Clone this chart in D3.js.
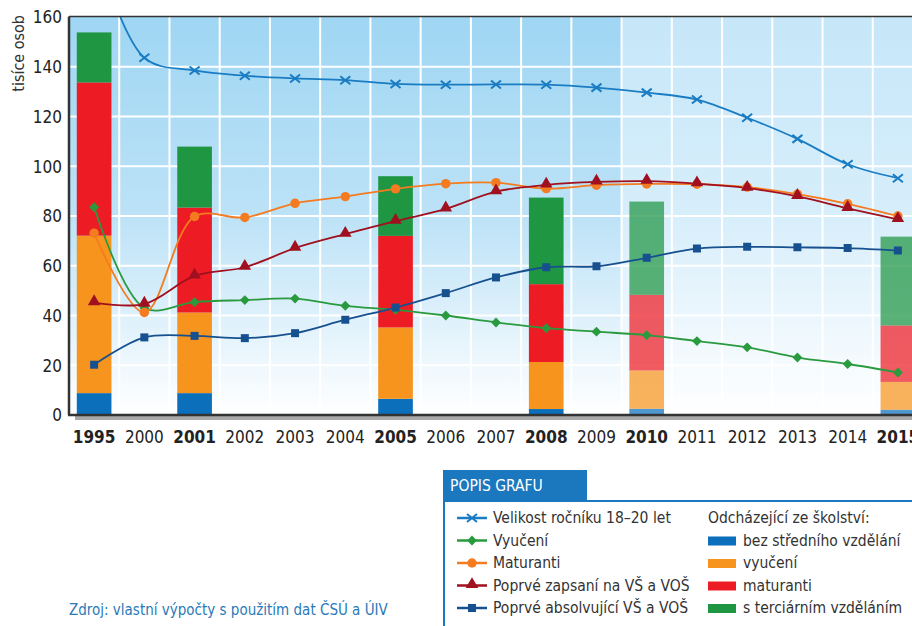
<!DOCTYPE html>
<html>
<head>
<meta charset="utf-8">
<style>
  body { margin: 0; background: #fff; }
  svg text { font-family: 'Liberation Sans Narrow', 'DejaVu Sans Condensed', 'Liberation Sans', sans-serif; }
  .tick text { fill: #222; font-size: 17px; }
  .leg text { fill: #333; font-size: 15.5px; }
</style>
</head>
<body>
<div id="chart"></div>
<script src="https://cdn.jsdelivr.net/npm/d3@7"></script>
<script>
// years on the x axis
var years = ["1995","2000","2001","2002","2003","2004","2005","2006","2007","2008","2009","2010","2011","2012","2013","2014","2015"];
var yTicks = [0, 20, 40, 60, 80, 100, 120, 140, 160];

// lines (thousands of people)
var velikost   = [190, 143.6, 138.5, 136.4, 135.3, 134.6, 133.1, 132.8, 132.9, 132.8, 131.6, 129.6, 126.8, 119.5, 111.0, 100.8, 95.2];
var vyuceni    = [83.5, 43.0, 45.4, 46.2, 46.8, 43.9, 42.3, 40.0, 37.2, 34.9, 33.5, 32.1, 29.7, 27.2, 23.1, 20.5, 17.1];
var maturanti  = [73.1, 41.2, 79.8, 79.4, 85.1, 87.8, 90.9, 93.0, 93.4, 91.0, 92.4, 92.9, 92.8, 91.6, 88.8, 84.9, 80.0];
var zapsani    = [45.2, 44.6, 55.9, 59.4, 67.1, 72.7, 77.9, 82.9, 89.8, 92.5, 93.7, 94.0, 93.0, 91.2, 87.9, 83.1, 78.6];
var absolventi = [20.2, 31.2, 31.8, 30.9, 32.9, 38.3, 43.2, 49.0, 55.3, 59.4, 59.8, 63.2, 66.9, 67.6, 67.4, 67.1, 66.1];

// stacked bars: leaving education
var barYears   = ["1995", "2001", "2005", "2008", "2010", "2015"];
var barFuture  = [false, false, false, false, true, true];
var bezStredni = [8.8, 8.8, 6.5, 2.4, 2.5, 2.1];
var vyuceniB   = [63.3, 32.4, 28.7, 18.9, 15.4, 11.2];
var maturantiB = [61.6, 42.2, 36.8, 31.3, 30.4, 22.7];
var terciarni  = [20.1, 24.5, 24.0, 34.8, 37.5, 35.7];

var lineNames = ["Velikost ročníku 18–20 let", "Vyučení", "Maturanti", "Poprvé zapsaní na VŠ a VOŠ", "Poprvé absolvující VŠ a VOŠ"];
var barNames = ["bez středního vzdělání", "vyučení", "maturanti", "s terciárním vzděláním"];

var width = 912, height = 626;
var svg = d3.select("#chart").append("svg")
  .attr("width", width)
  .attr("height", height);

var pLeft = 69, pTop = 16.5, pBottom = 415, pRight = 923;

var x = d3.scaleBand().domain(years).range([pLeft, pRight]).padding(0);
var y = d3.scaleLinear().domain([0, 160]).range([pBottom, 17]);

var defs = svg.append("defs");
function grad(id, c) {
  var g = defs.append("linearGradient").attr("id", id)
    .attr("x1", 0).attr("y1", 0).attr("x2", 0).attr("y2", 1);
  g.append("stop").attr("offset", "0").attr("stop-color", c);
  g.append("stop").attr("offset", "0.5").attr("stop-color", d3.interpolateRgb(c, "#fff")(0.3));
  g.append("stop").attr("offset", "1").attr("stop-color", "#fff");
}
grad("bgPast", "#9fd6f3");
grad("bgFuture", "#c6e7f9");
defs.append("clipPath").attr("id", "plotClip").append("rect")
  .attr("x", pLeft).attr("y", pTop).attr("width", pRight - pLeft).attr("height", pBottom - pTop);

// background
svg.append("rect").attr("x", pLeft).attr("y", pTop)
  .attr("width", x("2010") - pLeft).attr("height", pBottom - pTop)
  .attr("fill", "url(#bgPast)");
svg.append("rect").attr("x", x("2010")).attr("y", pTop)
  .attr("width", pRight - x("2010")).attr("height", pBottom - pTop)
  .attr("fill", "url(#bgFuture)");

// grid
var grid = svg.append("g");
grid.selectAll(".vg").data(years.slice(1)).enter().append("line")
  .attr("x1", function(d) { return x(d); }).attr("x2", function(d) { return x(d); })
  .attr("y1", pTop).attr("y2", pBottom)
  .attr("stroke", "#fff").attr("stroke-width", 2);
grid.selectAll(".hg").data(yTicks.slice(1, -1)).enter().append("line")
  .attr("x1", pLeft).attr("x2", pRight)
  .attr("y1", function(d) { return y(d); }).attr("y2", function(d) { return y(d); })
  .attr("stroke", "#fff").attr("stroke-width", 2);

// bars
var barColors = ["#0b6fbc", "#f7941d", "#ed1c24", "#1f9642"];
var barRows = barYears.map(function(yr, i) {
  return { year: yr, future: barFuture[i], vals: [bezStredni[i], vyuceniB[i], maturantiB[i], terciarni[i]] };
});
var bw = x.bandwidth() * 0.69;
barRows.forEach(function(r) {
  var acc = 0;
  r.vals.forEach(function(v, k) {
    svg.append("rect")
      .attr("x", x(r.year) + (x.bandwidth() - bw) / 2)
      .attr("y", y(acc + v))
      .attr("width", bw)
      .attr("height", y(acc) - y(acc + v))
      .attr("fill", barColors[k])
      .attr("opacity", r.future ? 0.72 : 1);
    acc += v;
  });
});

// lines
var cx = function(d, i) { return x(years[i]) + x.bandwidth() / 2; };
var lineGen = d3.line().x(cx).y(function(d) { return y(d); }).curve(d3.curveCatmullRom.alpha(0.5));
var series = [
  { vals: velikost, color: "#1a7cc2", mark: "x" },
  { vals: vyuceni, color: "#2a9a3e", mark: "diamond" },
  { vals: maturanti, color: "#f47b20", mark: "circle" },
  { vals: zapsani, color: "#a0101e", mark: "triangle" },
  { vals: absolventi, color: "#17508f", mark: "square" }
];
var plot = svg.append("g").attr("clip-path", "url(#plotClip)");

function marker(g, kind, color, px, py) {
  if (kind === "x") {
    g.append("path").attr("d", "M" + (px - 5) + "," + (py - 4) + "L" + (px + 5) + "," + (py + 4) + "M" + (px - 5) + "," + (py + 4) + "L" + (px + 5) + "," + (py - 4))
      .attr("stroke", color).attr("stroke-width", 2).attr("fill", "none");
  } else {
    var sym = { diamond: d3.symbolDiamond2, circle: d3.symbolCircle, triangle: d3.symbolTriangle, square: d3.symbolSquare }[kind];
    var size = { diamond: 62, circle: 70, triangle: 68, square: 64 }[kind];
    g.append("path").attr("d", d3.symbol().type(sym).size(size)())
      .attr("transform", "translate(" + px + "," + (py + (kind === "triangle" ? -1 : 0)) + ")")
      .attr("fill", color);
  }
}

series.forEach(function(s) {
  plot.append("path").datum(s.vals).attr("d", lineGen)
    .attr("fill", "none").attr("stroke", s.color).attr("stroke-width", 1.8);
});
series.forEach(function(s) {
  s.vals.forEach(function(v, i) {
    marker(plot, s.mark, s.color, cx(v, i), y(v));
  });
});

// frame
svg.append("line").attr("x1", pLeft).attr("x2", pRight).attr("y1", pTop).attr("y2", pTop)
  .attr("stroke", "#333").attr("stroke-width", 1.5);
svg.append("rect").attr("x", pLeft + 6).attr("y", pBottom + 1).attr("width", pRight - pLeft).attr("height", 4)
  .attr("fill", "#a9a9a9");
svg.append("line").attr("x1", pLeft).attr("x2", pLeft).attr("y1", pTop).attr("y2", pBottom)
  .attr("stroke", "#333").attr("stroke-width", 2.5);
svg.append("line").attr("x1", pLeft - 1).attr("x2", pRight).attr("y1", pBottom).attr("y2", pBottom)
  .attr("stroke", "#333").attr("stroke-width", 2.5);

// axes
var yAxis = svg.append("g").attr("transform", "translate(" + (pLeft - 7) + ",0)")
  .call(d3.axisLeft(y).tickValues(yTicks).tickSize(0).tickPadding(0));
yAxis.select(".domain").remove();
yAxis.selectAll("text").attr("dy", "0.35em");

var xAxis = svg.append("g").attr("transform", "translate(0," + (pBottom + 15) + ")")
  .call(d3.axisBottom(x).tickSize(0).tickPadding(0));
xAxis.select(".domain").remove();
xAxis.selectAll("text").attr("dy", "0.75em")
  .style("font-weight", function(d) { return barYears.indexOf(d) >= 0 ? "bold" : "normal"; });

svg.append("text").attr("transform", "translate(24,15) rotate(-90)")
  .attr("text-anchor", "end").attr("font-size", 16).attr("fill", "#333").text("tisíce osob");

// legend
var lg = svg.append("g").attr("class", "leg");
lg.append("rect").attr("x", 443).attr("y", 470).attr("width", 144).attr("height", 31).attr("fill", "#1b78bf");
lg.append("text").attr("x", 450).attr("y", 491).style("fill", "#fff").attr("font-size", 16).text("POPIS GRAFU");
lg.append("rect").attr("x", 444).attr("y", 501).attr("width", 480).attr("height", 140)
  .attr("fill", "#fff").attr("stroke", "#1b78bf").attr("stroke-width", 2);

var rowY = d3.scalePoint().domain(d3.range(5)).range([518, 608]);
series.forEach(function(s, i) {
  var g = lg.append("g");
  g.append("line").attr("x1", 457).attr("x2", 487).attr("y1", rowY(i)).attr("y2", rowY(i))
    .attr("stroke", s.color).attr("stroke-width", 2.5);
  marker(g, s.mark, s.color, 472, rowY(i));
  g.append("text").attr("x", 493).attr("y", rowY(i)).attr("dy", "0.35em").text(lineNames[i]);
});
lg.append("text").attr("x", 708).attr("y", rowY(0)).attr("dy", "0.35em").text("Odcházející ze školství:");
barNames.forEach(function(n, i) {
  lg.append("rect").attr("x", 708).attr("y", rowY(i + 1) - 4).attr("width", 28).attr("height", 9).attr("fill", barColors[i]);
  lg.append("text").attr("x", 743).attr("y", rowY(i + 1)).attr("dy", "0.35em").text(n);
});

svg.append("text").attr("x", 69).attr("y", 610).attr("dy", "0.35em")
  .attr("font-size", 15).attr("fill", "#2a7ab8").text("Zdroj: vlastní výpočty s použitím dat ČSÚ a ÚIV");
</script>
</body>
</html>
